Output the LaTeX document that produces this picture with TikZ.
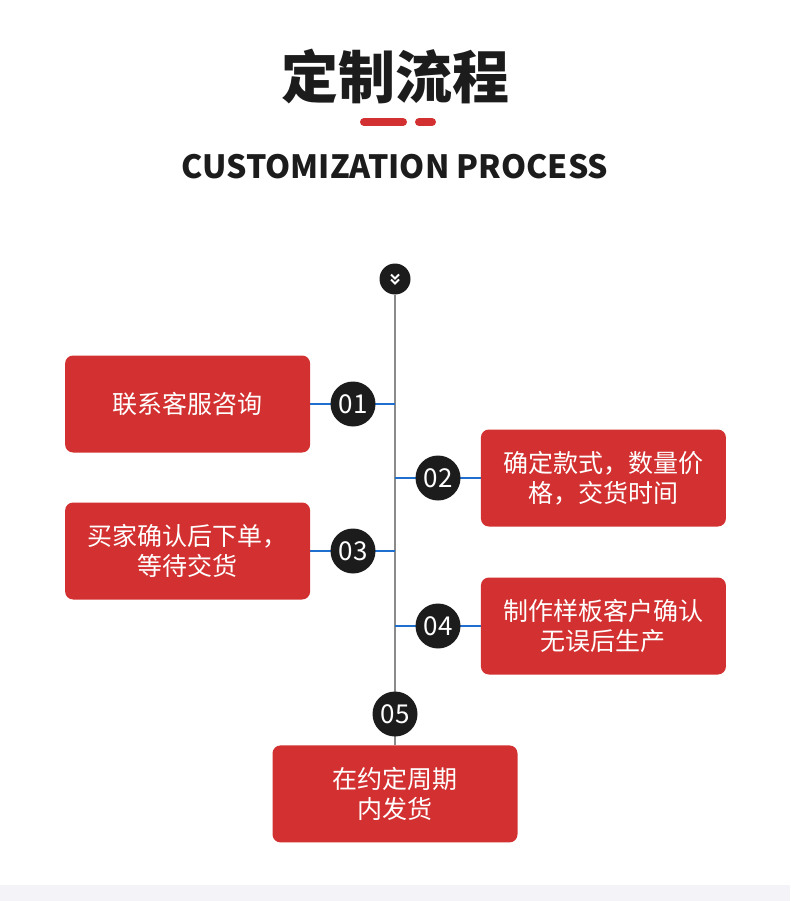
\documentclass[tikz,border=0pt]{standalone}
\usepackage{fontspec}
\newfontfamily\cjk{Noto Sans CJK SC}
\usetikzlibrary{positioning, backgrounds}
\definecolor{rojo}{HTML}{D33131}
\definecolor{negro}{HTML}{1C1C1C}
\definecolor{azul}{HTML}{1F6FCF}
\definecolor{gris}{HTML}{8A8A8A}
\definecolor{fondo}{HTML}{F4F4F8}
\tikzstyle{paso} = [fill=rojo, text=white, rectangle, rounded corners=8pt, minimum width=245pt, minimum height=97pt, inner sep=0pt, align=center, font=\cjk\fontsize{25}{30}\selectfont]
\tikzstyle{numero} = [fill=negro, text=white, circle, minimum size=45pt, inner sep=0pt, font=\cjk\fontsize{26}{26}\selectfont]
\tikzstyle{enlace} = [draw=azul, line width=1.2pt]
\tikzstyle{barra} = [draw=rojo, line width=8pt, line cap=round]
\begin{document}
\begin{tikzpicture}[x=1pt, y=-1pt]
	\useasboundingbox (0,0) rectangle (790,901);
	\fill[fondo] (0,885) rectangle (790,901);
	\node[text=negro, font=\cjk\bfseries\fontsize{57}{57}\selectfont] (titulo) at (395,77) {定制流程};
	\draw[barra] (364,122) -- (403,122);
	\draw[barra] (419,122) -- (432,122);
	\node[text=negro, font=\cjk\bfseries\fontsize{32}{32}\selectfont] (subtitulo) at (395,167) {CUSTOMIZATION PROCESS};
	\node[fill=negro, circle, minimum size=31pt, inner sep=0pt] (inicio) at (395,279) {};
	\draw[white, line width=1.8pt] ([shift={(-4,-4.5)}]inicio.center) -- ([shift={(0,-0.5)}]inicio.center) -- ([shift={(4,-4.5)}]inicio.center);
	\draw[white, line width=1.8pt] ([shift={(-4,0.5)}]inicio.center) -- ([shift={(0,4.5)}]inicio.center) -- ([shift={(4,0.5)}]inicio.center);
	\node[numero] (n1) at (353,404) {01};
	\node[numero] (n2) at (438,478) {02};
	\node[numero] (n3) at (353,551) {03};
	\node[numero] (n4) at (438,626) {04};
	\node[numero] (n5) at (395,714) {05};
	\node[paso, left=20pt of n1] (p1) {联系客服咨询};
	\node[paso, right=20pt of n2] (p2) {确定款式，数量价\\格，交货时间};
	\node[paso, left=20pt of n3] (p3) {买家确认后下单，\\等待交货};
	\node[paso, right=20pt of n4] (p4) {制作样板客户确认\\无误后生产};
	\node[paso, below=8.5pt of n5] (p5) {在约定周期\\内发货};
	\begin{scope}[on background layer]
		\draw[gris, line width=1.2pt] (inicio.south) -- (p5.north);
		\draw[enlace] (p1.east) -- (p1.east -| inicio);
		\draw[enlace] (inicio |- p2.west) -- (p2.west);
		\draw[enlace] (p3.east) -- (p3.east -| inicio);
		\draw[enlace] (inicio |- p4.west) -- (p4.west);
	\end{scope}
\end{tikzpicture}
\end{document}
